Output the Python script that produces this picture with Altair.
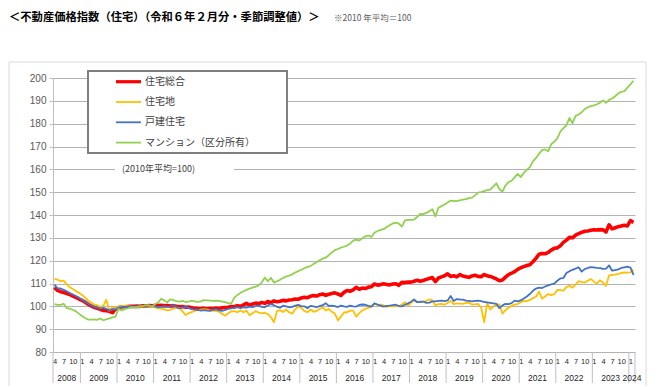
import altair as alt
import pandas as pd

# ---------------- data ----------------
series_names = ["住宅総合", "住宅地", "戸建住宅", "マンション（区分所有）"]
series_colors = ["#ff0000", "#ffc000", "#4472c4", "#92d050"]
series_widths = [3.6, 1.8, 1.8, 1.8]
years = list(range(2008, 2025))
first_month = 4          # series starts April 2008
month_ticks = [1, 4, 7, 10]
y_ticks = list(range(80, 201, 10))

red = [
    108.3, 107.0, 106.4, 106.1, 105.6, 105.2, 104.5, 103.9, 103.2,
    102.6, 101.9, 100.9, 100.2, 99.6, 99.1, 98.7, 98.2, 98.1, 97.8, 97.2, 98.8,
    99.5, 99.7, 99.8, 99.9, 100.0, 100.0, 100.1, 100.0, 100.2, 100.1, 100.3, 100.2,
    100.4, 100.3, 100.5, 100.2, 100.4, 100.1, 100.3, 100.0, 99.8, 99.9, 99.6, 99.7,
    99.4, 99.2, 99.0, 98.9, 99.1, 98.8, 99.0, 98.9, 99.2, 99.0, 99.4, 99.5,
    99.6, 99.9, 99.8, 100.3, 100.0, 100.6, 101.3, 100.5, 101.0, 101.4, 101.2, 101.7,
    101.3, 102.1, 101.6, 102.4, 102.0, 102.2, 102.6, 102.4, 102.8, 102.9, 103.2, 103.1,
    103.7, 104.0, 103.8, 104.4, 104.7, 104.5, 105.1, 105.4, 104.8, 105.3, 105.6, 105.9,
    105.4, 104.8, 106.1, 106.9, 106.6, 107.2, 108.3, 107.5, 108.0, 107.8, 108.4, 108.6,
    109.8, 109.3, 109.5, 109.9, 109.6, 109.4, 109.8, 109.9, 109.2, 110.5, 110.4, 110.6,
    110.6, 111.0, 111.4, 111.0, 111.3, 111.8, 112.2, 112.6, 110.8, 112.4, 112.9, 113.4,
    114.2, 113.1, 113.4, 112.9, 113.9, 113.3, 113.0, 112.7, 113.3, 113.6, 113.1, 113.0,
    113.9, 113.4, 113.1, 112.6, 112.0, 111.2, 111.5, 112.8, 113.9, 114.5, 115.2, 116.2,
    116.9, 117.4, 117.9, 118.2, 119.5, 121.0, 122.8, 123.1, 123.0, 123.6, 124.6, 125.4,
    125.6, 126.5, 128.0, 129.0, 130.2, 130.0, 131.2, 131.8, 132.4, 132.9, 133.0, 133.3,
    133.5, 133.4, 133.6, 133.5, 132.6, 135.7, 133.9, 134.4, 134.9, 135.2, 135.5, 135.2,
    137.5, 136.8,
]

yellow = [
    112.0, 111.7, 111.0, 111.3, 109.6, 108.4, 107.6, 106.7, 105.9,
    105.0, 103.9, 102.6, 101.7, 100.8, 100.5, 99.8, 100.2, 102.9, 98.1, 99.6, 99.2,
    99.9, 100.1, 100.3, 100.1, 99.9, 99.7, 99.8, 100.0, 99.9, 100.0, 99.8, 99.9,
    99.5, 99.1, 99.0, 98.7, 98.2, 98.5, 99.0, 99.4, 99.3, 97.8, 96.2, 97.0,
    97.5, 98.0, 98.3, 98.6, 98.8, 98.6, 98.2, 98.0, 98.1, 97.6, 96.8, 95.9,
    97.0, 97.8, 97.9, 97.4, 98.2, 97.4, 98.1, 96.1, 97.0, 97.9, 97.3, 96.9,
    97.2, 96.6, 95.3, 93.0, 97.9, 98.3, 97.5, 98.6, 97.4, 96.8, 98.7, 100.0,
    99.3, 97.9, 97.4, 98.6, 97.6, 98.0, 98.8, 99.5, 98.2, 98.9, 97.6, 96.8,
    93.8, 95.5, 97.3, 97.4, 98.1, 98.1, 95.5, 97.0, 98.2, 98.9, 99.3, 99.9,
    101.2, 100.5, 100.8, 100.4, 99.7, 100.2, 100.0, 100.0, 100.2, 100.8, 101.8, 100.2,
    101.5, 102.6, 101.8, 101.8, 102.0, 102.4, 103.0, 102.6, 100.4, 101.0, 101.1, 100.7,
    101.5, 102.4, 101.0, 101.3, 101.2, 101.1, 101.5, 101.6, 100.8, 100.9, 101.1, 99.5,
    93.0, 101.5, 98.6, 99.9, 100.7, 100.8, 96.8, 98.3, 99.4, 100.2, 100.8, 101.0,
    101.8, 102.4, 102.3, 102.8, 103.6, 104.2, 106.5, 103.4, 104.3, 105.4, 104.9, 105.3,
    107.2, 107.1, 106.9, 108.4, 109.0, 108.2, 109.5, 111.0, 110.6, 110.4, 111.2, 112.0,
    110.8, 110.0, 111.4, 110.4, 109.0, 113.6, 113.8, 113.9, 114.2, 114.6, 114.9, 114.8,
    114.9, 116.0,
]

blue = [
    109.5, 107.8, 107.8, 107.2, 106.6, 105.8, 105.2, 104.5, 103.8,
    102.9, 102.1, 101.2, 100.4, 99.8, 99.4, 99.0, 99.3, 98.9, 98.2, 98.8, 98.6,
    99.4, 99.7, 99.8, 99.9, 100.0, 99.9, 100.1, 100.0, 100.2, 100.0, 100.1, 100.3,
    100.0, 99.7, 99.8, 100.1, 99.8, 99.9, 100.6, 99.6, 99.1, 99.5, 99.6, 99.3,
    98.8, 98.6, 98.4, 98.1, 98.3, 98.1, 98.0, 98.5, 98.7, 98.2, 98.0, 98.4,
    98.9, 99.1, 99.3, 99.6, 99.2, 99.6, 99.4, 99.9, 99.7, 100.1, 100.3, 99.8,
    99.6, 100.4, 101.0, 100.5, 99.8, 99.4, 100.3, 100.0, 99.6, 99.8, 100.3, 100.6,
    100.1, 100.0, 99.2, 100.2, 100.0, 99.6, 100.1, 100.5, 101.4, 100.2, 100.3, 100.1,
    99.7, 100.3, 100.0, 99.8, 100.3, 100.0, 99.9, 100.6, 100.8, 100.7, 100.2, 99.9,
    101.3, 100.8, 100.3, 99.9, 100.2, 100.3, 100.5, 100.7, 100.1, 100.0, 100.7, 101.3,
    102.0, 103.0, 101.8, 102.0, 102.1, 101.5, 101.6, 102.2, 102.2, 102.4, 102.5, 102.3,
    102.6, 104.5, 102.3, 103.2, 103.0, 102.9, 102.5, 102.4, 102.2, 102.4, 102.5, 102.3,
    101.9, 101.7, 101.5, 101.3, 101.1, 99.2, 100.4, 101.1, 101.0, 101.4, 102.5, 102.2,
    102.6, 103.4, 104.3, 105.4, 106.8, 107.8, 108.2, 108.0, 108.7, 109.2, 109.6, 109.9,
    111.2, 112.2, 112.4, 114.6, 115.4, 116.0, 116.5, 117.1, 115.2, 116.3, 116.8, 117.2,
    117.1, 116.8, 116.7, 116.4, 116.5, 117.9, 115.6, 115.9, 116.2, 116.8, 117.1, 117.4,
    117.0, 113.8,
]

green = [
    101.0, 100.6, 100.6, 101.1, 99.2, 99.0, 98.5, 97.8, 96.8,
    95.8, 94.9, 94.2, 94.2, 94.3, 94.1, 94.7, 93.9, 94.3, 94.7, 95.2, 95.5,
    98.9, 98.2, 98.8, 99.1, 99.6, 99.6, 99.6, 99.9, 100.2, 100.4, 100.5, 99.8,
    101.0, 101.6, 103.3, 102.6, 101.8, 103.1, 102.7, 102.3, 102.1, 102.4, 101.9, 102.1,
    102.5, 102.2, 101.9, 102.2, 102.7, 102.6, 102.5, 102.4, 102.5, 102.4, 102.1, 101.8,
    101.4, 101.2, 103.8, 104.9, 105.9, 106.6, 107.2, 107.8, 108.2, 108.6, 109.2, 110.4,
    112.6, 111.0, 112.5, 110.4, 111.0, 111.6, 112.4, 113.0, 113.4, 114.0, 114.8, 115.4,
    116.0, 116.7, 117.3, 117.6, 118.6, 119.3, 120.2, 120.9, 121.3, 122.4, 123.6, 124.6,
    125.1, 125.7, 126.1, 126.6, 127.5, 128.8, 129.2, 128.8, 129.8, 130.7, 131.0, 130.4,
    132.2, 133.0, 133.5, 133.8, 134.7, 135.5, 136.3, 136.7, 136.2, 134.9, 137.6, 137.9,
    137.9, 138.0, 139.1, 140.5, 140.4, 140.9, 141.6, 142.5, 139.4, 143.2, 143.9, 144.6,
    145.5, 146.3, 146.2, 146.1, 146.4, 146.7, 147.0, 147.4, 147.6, 148.6, 149.8, 150.0,
    150.5, 150.9, 151.1, 152.5, 153.9, 151.3, 150.3, 153.0, 154.4, 155.0, 156.5, 158.0,
    156.6, 158.4, 159.8, 161.0, 163.5, 165.0, 166.8, 168.4, 168.7, 167.9, 171.0, 172.1,
    173.6, 176.5, 178.0, 179.3, 182.5, 180.2, 183.4, 184.0, 185.0, 186.4, 187.2, 187.7,
    188.0, 188.5, 189.2, 190.2, 189.1, 190.4, 191.0, 192.0, 193.3, 193.9, 194.2, 195.8,
    197.2, 198.8,
]

title_text = "＜不動産価格指数（住宅）（令和６年２月分・季節調整値）＞"
subtitle_text = "※2010 年平均＝100"
base_note = "(2010年平均=100)"

# ---------------- derived tables ----------------
n = len(red)
all_series = [red, yellow, blue, green]


def month_of(i):
    return (i + first_month - 1) % 12 + 1


frames = []
for name, vals in zip(series_names, all_series):
    frames.append(pd.DataFrame({"series": name,
                                "idx": [i + 0.5 for i in range(n)],
                                "value": vals}))

year_rows = []
for y in years:
    start = max(0, (y - years[0]) * 12 - (first_month - 1))
    end = min(n, (y - years[0] + 1) * 12 - (first_month - 1))
    year_rows.append({"year": str(y), "start": start, "end": end,
                      "mid": (start + end) / 2})
year_df = pd.DataFrame(year_rows)
bounds_df = pd.DataFrame({"b": [r["start"] for r in year_rows] + [n]})

tick_vals = [i + 0.5 for i in range(n) if month_of(i) in month_ticks]

# ---------------- scales / axes ----------------
W, H = 582, 274
xscale = alt.Scale(domain=[0, n], nice=False, zero=False)
yscale = alt.Scale(domain=[80, 200], nice=False, zero=False)
xaxis = alt.Axis(values=tick_vals,
                 labelExpr="(floor(datum.value) + 3) % 12 + 1",
                 title=None, grid=False, domain=False, ticks=False,
                 labelFontSize=7.5, labelColor="#262626",
                 labelFont="Liberation Sans Narrow, Liberation Sans, sans-serif",
                 labelPadding=5, labelOverlap=False, labelFlush=False,
                 labelBound=False, labelAngle=0)
yaxis = alt.Axis(values=y_ticks, title=None, grid=True, gridColor="#b3b3b3",
                 gridWidth=1, domainColor="#bfbfbf", tickColor="#bfbfbf",
                 tickSize=4, labelFontSize=10, labelColor="#595959",
                 labelFont="Liberation Sans, Arial, sans-serif", labelPadding=3)

one = pd.DataFrame({"a": [0]})
CJK = "Noto Sans CJK JP"

layers = []

# chart frame
layers.append(alt.Chart(one).mark_rect(fill="white", fillOpacity=0,
                                       stroke="#d9d9d9", strokeWidth=1).encode(
    x=alt.value(-44), x2=alt.value(593), y=alt.value(-16), y2=alt.value(312)))

# title + note
layers.append(alt.Chart(one).mark_text(
    text=title_text, font=CJK, fontSize=11.3, fontWeight="bold", color="#000000",
    align="left", baseline="middle").encode(x=alt.value(-44), y=alt.value(-60)))
layers.append(alt.Chart(one).mark_text(
    text=subtitle_text, font=CJK, fontSize=8.5, color="#595959",
    align="left", baseline="middle").encode(x=alt.value(281), y=alt.value(-60)))

# series lines (drawn in Excel order: first series at the bottom)
for name, color, width, fr in zip(series_names, series_colors, series_widths, frames):
    layers.append(alt.Chart(fr).mark_line(color=color, strokeWidth=width,
                                          strokeJoin="round").encode(
        x=alt.X("idx:Q", scale=xscale, axis=xaxis),
        y=alt.Y("value:Q", scale=yscale, axis=yaxis)))

# legend box
layers.append(alt.Chart(one).mark_rect(fill="white", stroke="#7f7f7f",
                                       strokeWidth=2).encode(
    x=alt.value(35), x2=alt.value(234), y=alt.value(-7), y2=alt.value(75)))
for k, (name, color, width) in enumerate(zip(series_names, series_colors, series_widths)):
    yy = 3.7 + k * 20.3
    layers.append(alt.Chart(one).mark_rule(color=color, strokeWidth=min(width, 3.2)).encode(
        x=alt.value(63), x2=alt.value(88), y=alt.value(yy)))
    layers.append(alt.Chart(one).mark_text(
        text=name, font=CJK, fontSize=10, color="#404040",
        align="left", baseline="middle").encode(x=alt.value(92), y=alt.value(yy)))

# base note on the 160 gridline
layers.append(alt.Chart(one).mark_rect(fill="white").encode(
    x=alt.value(62), x2=alt.value(181), y=alt.value(83), y2=alt.value(99)))
layers.append(alt.Chart(one).mark_text(
    text=base_note, font=CJK, fontSize=9, color="#404040",
    align="left", baseline="middle").encode(x=alt.value(69), y=alt.value(91)))

# year separators and year labels below axis
layers.append(alt.Chart(bounds_df).mark_rule(color="#bfbfbf", strokeWidth=1).encode(
    x=alt.X("b:Q", scale=xscale, axis=xaxis),
    y=alt.value(H), y2=alt.value(H + 31)))
layers.append(alt.Chart(year_df).mark_text(
    font="Liberation Sans Narrow, Liberation Sans, sans-serif", fontSize=8.5,
    color="#262626", baseline="middle").encode(
    x=alt.X("mid:Q", scale=xscale, axis=xaxis),
    y=alt.value(H + 26), text="year:N"))

chart = alt.layer(*layers).properties(
    width=W, height=H,
    padding={"left": 45, "top": 70, "right": 12, "bottom": 34},
    autosize=alt.AutoSizeParams(type="none"),
).configure_view(stroke=None)

chart.save("out.html", embed_options={"renderer": "svg", "actions": False})
